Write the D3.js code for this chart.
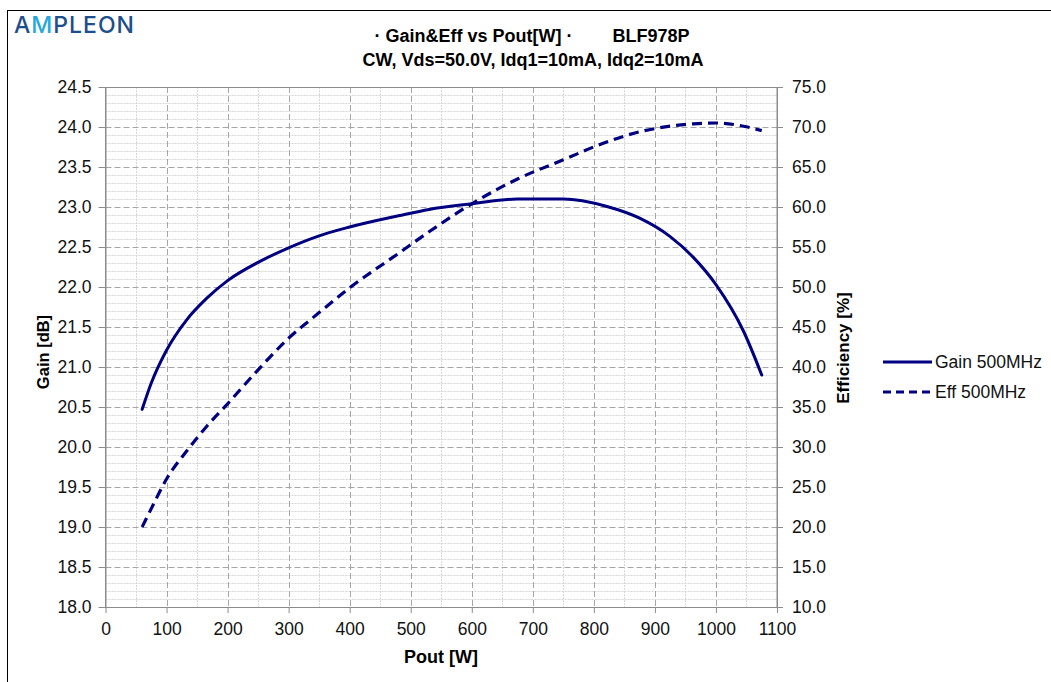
<!DOCTYPE html>
<html>
<head>
<meta charset="utf-8">
<script src="https://cdn.jsdelivr.net/npm/d3@7"></script>
<style>
  body { margin: 0; background: #fff; }
  svg { font-family: Arial, "Liberation Sans", sans-serif; }
</style>
</head>
<body>
<svg id="chart" width="1051" height="682"></svg>
<script>
var pout = [60, 75, 100, 133, 166, 200, 253, 300, 350, 400, 480, 530, 600, 675, 750, 820, 875, 925, 963, 1000, 1045, 1075];
var gain = [20.47, 20.8, 21.21, 21.59, 21.86, 22.08, 22.32, 22.49, 22.64, 22.75, 22.89, 22.97, 23.04, 23.10, 23.10, 23.01, 22.86, 22.63, 22.37, 22.03, 21.45, 20.9];
var eff = [20.0, 22.3, 26.0, 29.5, 32.6, 35.4, 39.9, 43.6, 46.8, 49.9, 54.2, 56.9, 60.4, 63.5, 65.9, 68.1, 69.4, 70.1, 70.4, 70.5, 70.1, 69.55];

var xTicks = d3.range(0, 1101, 100);
var gainTicks = d3.range(18, 24.51, 0.5);
var effTicks = d3.range(10, 75.1, 5);
var seriesNames = ['Gain 500MHz', 'Eff 500MHz'];

// plot box (don't call it "top", that one belongs to window)
var plotL = 105.5, plotR = 777, plotT = 87, plotB = 607;
var navy = '#000080';
var tickFont = '17.5px';

var svg = d3.select('#chart');

function translate(a, b) {
    return 'translate(' + a + ',' + b + ')';
}

// outer frame
svg.append('rect')
    .attr('x', 7.5).attr('y', 10.5)
    .attr('width', 1060).attr('height', 690)
    .attr('fill', '#fff')
    .attr('stroke', '#000').attr('stroke-width', 1);

var x = d3.scaleLinear().domain([0, 1100]).range([plotL, plotR]);
var yG = d3.scaleLinear().domain([18, 24.5]).range([plotB, plotT]);
var yE = d3.scaleLinear().domain([10, 75]).range([plotB, plotT]);

function px(v) { return Math.round(v) + 0.5; }

// minor grid
var grid = svg.append('g');
grid.selectAll('line.hminor')
    .data(d3.range(180, 245).filter(function (v) { return v % 5 !== 0; })
        .map(function (v) { return v / 10; }))
    .enter().append('line')
    .attr('x1', plotL).attr('x2', plotR)
    .attr('y1', function (d) { return px(yG(d)); })
    .attr('y2', function (d) { return px(yG(d)); })
    .attr('stroke', '#d6d6d6').attr('stroke-dasharray', '2,1');

grid.selectAll('line.vminor')
    .data(d3.range(50, 1100, 100))
    .enter().append('line')
    .attr('y1', plotT).attr('y2', plotB)
    .attr('x1', function (d) { return px(x(d)); })
    .attr('x2', function (d) { return px(x(d)); })
    .attr('stroke', '#d6d6d6').attr('stroke-dasharray', '2,1');

// major grid
grid.selectAll('line.hmajor')
    .data(gainTicks.slice(1, -1))
    .enter().append('line')
    .attr('x1', plotL).attr('x2', plotR)
    .attr('y1', function (d) { return px(yG(d)); })
    .attr('y2', function (d) { return px(yG(d)); })
    .attr('stroke', '#a6a6a6').attr('stroke-dasharray', '6,3');

grid.selectAll('line.vmajor')
    .data(xTicks.slice(1, -1))
    .enter().append('line')
    .attr('y1', plotT).attr('y2', plotB)
    .attr('x1', function (d) { return px(x(d)); })
    .attr('x2', function (d) { return px(x(d)); })
    .attr('stroke', '#a6a6a6').attr('stroke-dasharray', '6,3');

// plot frame
svg.append('rect')
    .attr('x', plotL).attr('y', plotT + 0.5)
    .attr('width', plotR - plotL).attr('height', plotB - plotT)
    .attr('fill', 'none').attr('stroke', '#8c8c8c');

// axes
function styleAxis(g) {
    g.select('.domain').attr('stroke', '#8c8c8c');
    g.selectAll('.tick line').attr('stroke', '#8c8c8c');
    g.selectAll('.tick text').attr('fill', '#111')
        .style('font-size', tickFont).style('font-family', 'Arial, "Liberation Sans", sans-serif');
}

svg.append('g')
    .attr('transform', translate(0, plotB))
    .call(d3.axisBottom(x).tickValues(xTicks).tickFormat(d3.format('d')).tickSize(6).tickSizeOuter(0).tickPadding(10))
    .call(styleAxis);

svg.append('g')
    .attr('transform', translate(plotL, 0))
    .call(d3.axisLeft(yG).tickValues(gainTicks).tickFormat(d3.format('.1f')).tickSize(7).tickSizeOuter(0).tickPadding(7))
    .call(styleAxis);

svg.append('g')
    .attr('transform', translate(plotR, 0))
    .call(d3.axisRight(yE).tickValues(effTicks).tickFormat(d3.format('.1f')).tickSize(6).tickSizeOuter(0).tickPadding(9))
    .call(styleAxis);

// series
var gainLine = d3.line()
    .x(function (d, i) { return x(pout[i]); })
    .y(function (d) { return yG(d); })
    .curve(d3.curveMonotoneX);
var effLine = d3.line()
    .x(function (d, i) { return x(pout[i]); })
    .y(function (d) { return yE(d); })
    .curve(d3.curveMonotoneX);

svg.append('path')
    .attr('d', gainLine(gain))
    .attr('fill', 'none').attr('stroke', navy)
    .attr('stroke-width', 3).attr('stroke-linecap', 'round').attr('stroke-linejoin', 'round');

svg.append('path')
    .attr('d', effLine(eff))
    .attr('fill', 'none').attr('stroke', navy)
    .attr('stroke-width', 3.2).attr('stroke-dasharray', '10,6');

// titles
var title = svg.append('text')
    .attr('text-anchor', 'middle')
    .style('font-weight', 'bold').style('font-size', '18px')
    .style('white-space', 'pre');
title.append('tspan').attr('x', 532).attr('y', 42).text('· Gain&Eff vs Pout[W] ·        BLF978P');
title.append('tspan').attr('x', 533).attr('y', 66).text('CW, Vds=50.0V, Idq1=10mA, Idq2=10mA');

svg.append('text')
    .attr('x', 441).attr('y', 663)
    .attr('text-anchor', 'middle')
    .style('font-weight', 'bold').style('font-size', '18px')
    .text('Pout [W]');

svg.append('text')
    .attr('transform', translate(49, 352) + ' rotate(-90)')
    .attr('text-anchor', 'middle')
    .style('font-weight', 'bold').style('font-size', '16.5px')
    .text('Gain [dB]');

svg.append('text')
    .attr('transform', translate(849, 348) + ' rotate(-90)')
    .attr('text-anchor', 'middle')
    .style('font-weight', 'bold').style('font-size', '17px')
    .text('Efficiency [%]');

// legend
var legend = svg.append('g').attr('transform', translate(883, 362));
seriesNames.forEach(function (name, i) {
    var row = legend.append('g').attr('transform', translate(0, i * 30));
    row.append('line')
        .attr('x1', 0).attr('x2', 49).attr('y1', 0).attr('y2', 0)
        .attr('stroke', navy).attr('stroke-width', 3)
        .attr('stroke-dasharray', i === 1 ? '8,5' : null);
    row.append('text')
        .attr('x', 52).attr('y', 6)
        .attr('fill', '#111')
        .style('font-size', tickFont)
        .text(name);
});

// logo
var logo = svg.append('text')
    .attr('x', 14).attr('y', 33)
    .style('font-family', 'Inter, "DejaVu Sans", sans-serif')
    .style('font-size', '23px').style('font-weight', '500')
    .style('letter-spacing', '1px')
    .attr('fill', '#1d4f8b');
logo.append('tspan').text('A');
logo.append('tspan').attr('fill', '#26a8df').text('M');
logo.append('tspan').text('PLEON');
</script>
</body>
</html>
